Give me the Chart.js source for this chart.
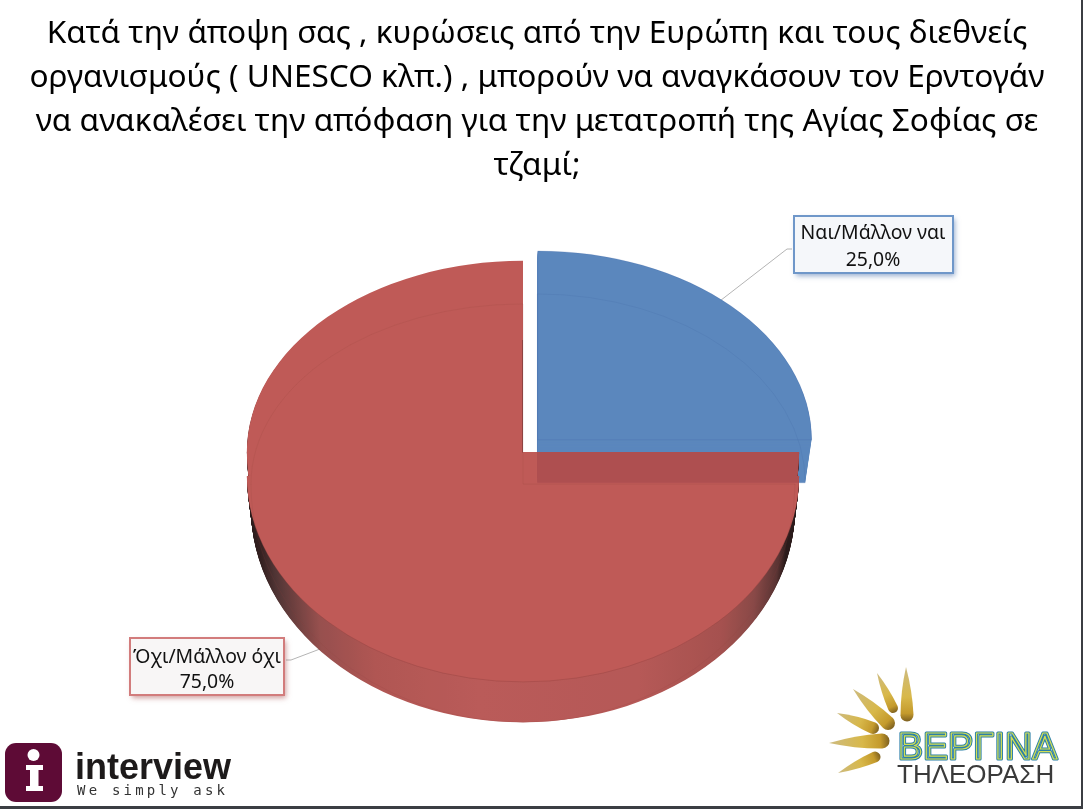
<!DOCTYPE html>
<html>
<head>
<meta charset="utf-8">
<style>
  html, body { margin: 0; height: 100%; background: #3b3e43; overflow: hidden; }
  #sheet { width: 1081px; height: 806px; background: #fff; }
  canvas { display: block; }
</style>
</head>
<body>
<div id="sheet"><canvas id="pie-chart" width="1074" height="805"></canvas></div>
<script src="https://cdn.jsdelivr.net/npm/chart.js@4/dist/chart.umd.min.js"></script>
<script>
const titleLines = [
  "Κατά την άποψη σας , κυρώσεις από την Ευρώπη και τους διεθνείς",
  "οργανισμούς ( UNESCO κλπ.) , μπορούν να αναγκάσουν τον Ερντογάν",
  "να ανακαλέσει την απόφαση για την μετατροπή της Αγίας Σοφίας σε",
  "τζαμί;",
];
const categories = ["Ναι/Μάλλον ναι", "Όχι/Μάλλον όχι"];
const values = [25, 75];
const sliceColors = ["#5b87bd", "#b84945"];

const titleFont = "'Noto Sans'";
const labelFont = "'Noto Sans'";

// how each slice is tilted: rx/up/down are ratios of the pie radius,
// drop is px below the centre, bulge pushes the lower half's widest point down (perspective)
const tilt = [
  {
    top: { rx: 0.989, up: 0.682, down: 0.682, drop: -2, bulge: 0 },
    base: { rx: 0.967, up: 0.682, down: 0.682, drop: 41, bulge: 0 },
  },
  {
    top: { rx: 0.997, up: 0.69, down: 0.83, drop: 0, bulge: 24 },
    base: { rx: 0.982, up: 0.65, down: 0.86, drop: 32, bulge: 24 },
  },
];
const wallSteps = 44;
const pieShiftX = -14; // pie sits a bit left of the title's centre

function mix(a, b, t) {
  const out = {};
  Object.keys(a).forEach((k) => (out[k] = a[k] + (b[k] - a[k]) * t));
  return out;
}

function paintArc(ctx, arc, view, style, width, height, passes = ["up", "down", "bulge"]) {
  const saved = arc.options;
  arc.options = Object.assign({}, saved, style);
  const vy = arc.y + view.drop;
  const bands = {
    up: [0, vy + 0.5, vy, view.up],
    down: [vy, height - vy, vy, view.down],
    bulge: [vy + view.bulge, height, vy + view.bulge, view.down - view.bulge / arc.outerRadius],
  };
  passes.forEach((name) => {
    const [y, h, pivot, sy] = bands[name];
    ctx.save();
    ctx.beginPath();
    ctx.rect(0, y, width, h);
    ctx.clip();
    ctx.translate(arc.x + pieShiftX, pivot);
    ctx.scale(view.rx, sy);
    ctx.translate(-arc.x, -arc.y);
    arc.draw(ctx);
    ctx.restore();
  });
  arc.options = saved;
}

function drawLeader(ctx, points) {
  ctx.save();
  ctx.strokeStyle = "#b4b4b4";
  ctx.lineWidth = 1;
  ctx.beginPath();
  points.forEach(([x, y], i) => (i ? ctx.lineTo(x, y) : ctx.moveTo(x, y)));
  ctx.stroke();
  ctx.restore();
}

const tiltedPie = {
  id: "tiltedPie",
  beforeDatasetsDraw(chart) {
    const ctx = chart.ctx;
    const [blue, red] = chart.getDatasetMeta(0).data;
    const w = chart.width;
    const h = chart.height;
    const clear = "rgba(0,0,0,0)";

    drawLeader(ctx, [[792, 249], [787, 249], [716, 304]]);
    drawLeader(ctx, [[286, 660], [291, 660], [320, 649]]);

    // blue wedge and its front wall
    for (let i = 0; i <= wallSteps; i++) {
      const view = mix(tilt[0].base, tilt[0].top, i / wallSteps);
      paintArc(ctx, blue, view, { backgroundColor: sliceColors[0], borderWidth: 0 }, w, h, ["up"]);
    }
    paintArc(ctx, blue, tilt[0].base, { backgroundColor: clear, borderColor: "rgba(60,95,160,0.2)", borderWidth: 1 }, w, h, ["up"]);
    paintArc(ctx, blue, tilt[0].top, { backgroundColor: clear, borderColor: "rgba(60,95,160,0.22)", borderWidth: 1 }, w, h, ["up"]);

    // red slice goes on its own layer so it can sit half see-through over the blue one
    const layer = document.createElement("canvas");
    layer.width = w;
    layer.height = h;
    const lc = layer.getContext("2d");

    // gradient lives in the arc's own coordinates, paintArc moves it along with the pie
    const left = red.x - red.outerRadius;
    const wall = lc.createLinearGradient(left, 0, left + red.outerRadius * 2, 0);
    wall.addColorStop(0, "#150303");
    wall.addColorStop(0.02, "#1e0808");
    wall.addColorStop(0.05, "#3f2020");
    wall.addColorStop(0.13, "#8c3d3b");
    wall.addColorStop(0.23, "#a84441");
    wall.addColorStop(0.42, "#b34a47");
    wall.addColorStop(0.71, "#ae4745");
    wall.addColorStop(0.86, "#9c3f3c");
    wall.addColorStop(0.92, "#7d3634");
    wall.addColorStop(0.964, "#481e1d");
    wall.addColorStop(0.98, "#150303");
    wall.addColorStop(1, "#150303");

    for (let i = 0; i < wallSteps; i++) {
      const view = mix(tilt[1].base, tilt[1].top, i / wallSteps);
      paintArc(lc, red, view, { backgroundColor: wall, borderWidth: 0 }, w, h);
    }
    paintArc(lc, red, tilt[1].top, { backgroundColor: sliceColors[1], borderWidth: 0 }, w, h);
    paintArc(lc, red, tilt[1].base, { backgroundColor: clear, borderColor: "rgba(130,40,40,0.16)", borderWidth: 1 }, w, h, ["up", "down"]);

    // darker rim where the face meets the wall
    lc.save();
    lc.beginPath();
    lc.rect(0, red.y + 70, w, h);
    lc.clip();
    paintArc(lc, red, tilt[1].top, { backgroundColor: clear, borderColor: "rgba(120,35,35,0.35)", borderWidth: 1 }, w, h, ["bulge"]);
    lc.restore();

    // thin dark seam along the cut edge
    lc.save();
    lc.beginPath();
    lc.rect(red.x + pieShiftX - 1.5, red.y - 112, 1.5, 136);
    lc.clip();
    paintArc(lc, red, tilt[1].top, { backgroundColor: clear, borderColor: "rgba(90,30,30,0.55)", borderWidth: 2 }, w, h, ["up", "down"]);
    lc.restore();

    ctx.save();
    ctx.globalAlpha = 0.9;
    ctx.drawImage(layer, 0, 0);
    ctx.restore();
    return false;
  },
  afterDraw(chart) {
    const ctx = chart.ctx;
    drawCallout(ctx, 0, 794, 216, 159, 57, "#6f97c9", "#f5f7fa", "rgba(70,110,170,0.55)", 873, 239, 266);
    drawCallout(ctx, 1, 130, 638, 154, 57, "#d27c7c", "#f8f6f6", "rgba(170,80,80,0.55)", 207, 663, 688);
    drawInterviewLogo(ctx);
    drawVerginaLogo(ctx);
  },
};

function drawCallout(ctx, i, x, y, w, h, border, fill, shadow, tx, y1, y2) {
  ctx.save();
  ctx.shadowColor = shadow;
  ctx.shadowBlur = 5;
  ctx.shadowOffsetX = 2;
  ctx.shadowOffsetY = 3;
  ctx.fillStyle = fill;
  ctx.fillRect(x, y, w, h);
  ctx.restore();
  ctx.save();
  ctx.strokeStyle = border;
  ctx.lineWidth = 2;
  ctx.strokeRect(x, y, w, h);
  ctx.fillStyle = "#111";
  ctx.textAlign = "center";
  ctx.font = "19.4px " + labelFont;
  ctx.fillText(categories[i], tx, y1);
  ctx.fillText(values[i].toFixed(1).replace(".", ",") + "%", tx, y2);
  ctx.restore();
}

function drawInterviewLogo(ctx) {
  ctx.save();
  ctx.fillStyle = "#5e0b36";
  ctx.beginPath();
  ctx.roundRect(5, 743, 57, 59, 11);
  ctx.fill();
  ctx.fillStyle = "#fff";
  ctx.beginPath();
  ctx.arc(33.5, 755, 6, 0, Math.PI * 2);
  ctx.fill();
  ctx.fillRect(26, 765, 17, 5);
  ctx.fillRect(30, 765, 8.5, 26);
  ctx.fillRect(26, 786, 17, 5);
  ctx.fillStyle = "#1d1a1a";
  ctx.font = "bold 36px 'Liberation Sans'";
  ctx.fillText("interview", 75, 779);
  ctx.fillStyle = "#333";
  ctx.font = "14px 'DejaVu Sans Mono'";
  ctx.letterSpacing = "3.2px";
  ctx.fillText("We simply ask", 77, 795);
  ctx.restore();
}

function drawDrop(ctx, tx, ty, bx, by, r) {
  const a = Math.atan2(by - ty, bx - tx);
  const nx = -Math.sin(a) * r;
  const ny = Math.cos(a) * r;
  const grad = ctx.createLinearGradient(tx, ty, bx + Math.cos(a) * r, by + Math.sin(a) * r);
  grad.addColorStop(0, "#cdbb80");
  grad.addColorStop(0.55, "#d8b84a");
  grad.addColorStop(0.85, "#c49a2c");
  grad.addColorStop(1, "#7d6020");
  ctx.fillStyle = grad;
  ctx.beginPath();
  ctx.moveTo(tx, ty);
  ctx.quadraticCurveTo((tx + bx) / 2 + nx * 0.9, (ty + by) / 2 + ny * 0.9, bx + nx, by + ny);
  ctx.arc(bx, by, r, a + Math.PI / 2, a - Math.PI / 2, true);
  ctx.quadraticCurveTo((tx + bx) / 2 - nx * 0.9, (ty + by) / 2 - ny * 0.9, tx, ty);
  ctx.fill();
}

function drawVerginaLogo(ctx) {
  ctx.save();
  drawDrop(ctx, 906, 667, 907, 715, 6.5);
  drawDrop(ctx, 877, 673, 893, 708, 5);
  drawDrop(ctx, 853, 689, 888, 723, 7);
  drawDrop(ctx, 837, 713, 873, 728, 6);
  drawDrop(ctx, 829, 743, 882, 741, 7.5);
  drawDrop(ctx, 838, 773, 875, 757, 5.5);

  ctx.font = "37px 'Liberation Sans'";
  ctx.letterSpacing = "0.5px";
  ctx.lineJoin = "round";
  ctx.strokeStyle = "#2b7fa8";
  ctx.lineWidth = 3.2;
  ctx.strokeText("ΒΕΡΓΙΝΑ", 898, 759);
  ctx.strokeStyle = "#d3df55";
  ctx.lineWidth = 1.2;
  ctx.strokeText("ΒΕΡΓΙΝΑ", 898, 759);

  ctx.letterSpacing = "0px";
  ctx.fillStyle = "#3a3a3a";
  ctx.font = "26px 'Liberation Sans'";
  ctx.fillText("ΤΗΛΕΟΡΑΣΗ", 897, 783);
  ctx.restore();
}

const canvasElement = document.getElementById("pie-chart");
const config = {
  type: "pie",
  data: {
    labels: categories,
    datasets: [
      {
        data: values,
        backgroundColor: sliceColors,
        borderWidth: 0,
        offset: [84, 0],
      },
    ],
  },
  options: {
    responsive: false,
    animation: false,
    radius: 277,
    layout: {
      padding: { bottom: 89 },
    },
    plugins: {
      legend: { display: false },
      tooltip: { enabled: false },
      title: {
        display: true,
        text: titleLines,
        color: "#000",
        font: { family: titleFont, size: 31.6, weight: "normal", lineHeight: 44 / 31.6 },
        padding: { top: 12, bottom: 0 },
      },
    },
  },
  plugins: [tiltedPie],
};

const pieChart = new Chart(canvasElement, config);
</script>
</body>
</html>
